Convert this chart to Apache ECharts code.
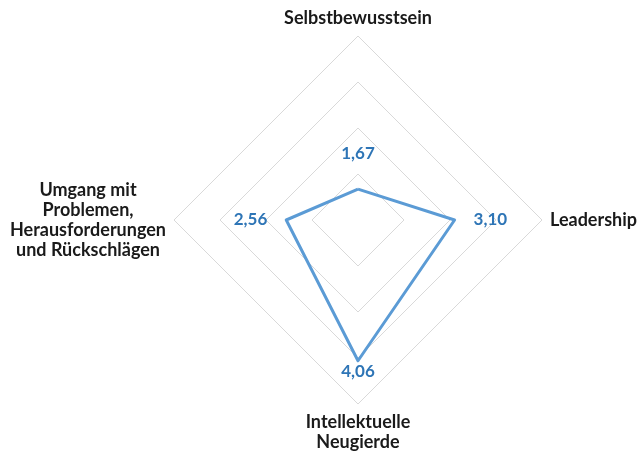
<!DOCTYPE html>
<html>
<head>
<meta charset="utf-8">
<script src="https://cdn.jsdelivr.net/npm/echarts@6/dist/echarts.min.js"></script>
<style>
  html, body { margin: 0; padding: 0; background: #fff; }
  #chart { width: 639px; height: 452px; }
</style>
</head>
<body>
<div id="chart"></div>
<script>
// Achsen in der Reihenfolge, wie ECharts sie zeichnet (oben, links, unten, rechts)
var categories = [
  'Selbstbewusstsein',
  'Umgang mit\nProblemen,\nHerausforderungen\nund Rückschlägen',
  'Intellektuelle\nNeugierde',
  'Leadership'
];
var values = [1.67, 2.56, 4.06, 3.10];
var axisMin = 1, axisMax = 5;

// Beschriftung der Werte je Ecke: Lage und Abstand
var labelPos = ['top', 'left', 'bottom', 'right'];
var labelDist = [27, 19, 2, 19];

var fmt = function (v) { return v.toFixed(2).replace('.', ','); };

var chart = echarts.init(document.getElementById('chart'));

var helpers = values.map(function (v, k) {
  return {
    value: values,
    symbolSize: 0,
    lineStyle: { opacity: 0, width: 0 },
    label: {
      show: true,
      position: labelPos[k],
      distance: labelDist[k],
      formatter: function (p) { return p.value === values[k] ? fmt(p.value) : ''; }
    }
  };
});

chart.setOption({
  animation: false,
  textStyle: { fontFamily: 'Lato' },
  radar: {
    center: [358, 220],
    radius: 184,
    shape: 'polygon',
    splitNumber: 4,
    startAngle: 90,
    nameGap: 8,
    indicator: categories.map(function (c) {
      return { name: c, min: axisMin, max: axisMax };
    }),
    axisName: {
      color: '#1a1a1a',
      fontWeight: 'bold',
      fontSize: 18,
      fontFamily: 'Lato',
      formatter: function (name) {
        return name.split('\n').map(function (l) { return '{c|' + l + '}'; }).join('\n');
      },
      rich: {
        c: {
          color: '#1a1a1a',
          fontWeight: 'bold',
          fontSize: 18,
          fontFamily: 'Lato',
          lineHeight: 20,
          align: 'center'
        }
      }
    },
    axisLine: { show: false },
    axisTick: { show: false },
    axisLabel: { show: false },
    splitArea: { show: false },
    splitLine: { lineStyle: { color: '#d9d9d9', width: 1 } }
  },
  series: [{
    type: 'radar',
    silent: true,
    symbol: 'circle',
    label: {
      color: '#2e75b6',
      fontWeight: 'bold',
      fontSize: 17,
      fontFamily: 'Lato'
    },
    data: [{
      value: values,
      symbolSize: 0,
      lineStyle: { color: '#5b9bd5', width: 3 },
      itemStyle: { color: '#5b9bd5' },
      label: { show: false }
    }].concat(helpers)
  }]
});
</script>
</body>
</html>
